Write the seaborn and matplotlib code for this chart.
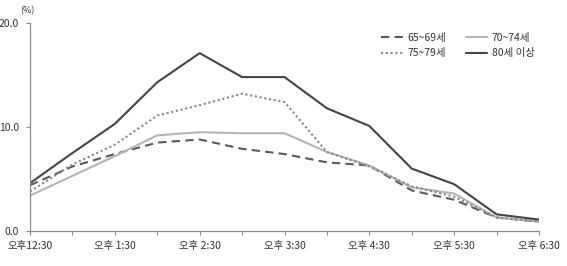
import matplotlib
matplotlib.use("Agg")
import matplotlib.pyplot as plt
import seaborn as sns
import pandas as pd
import numpy as np

times = ["12:30", "1:00", "1:30", "2:00", "2:30", "3:00", "3:30",
         "4:00", "4:30", "5:00", "5:30", "6:00", "6:30"]
tick_labels = ["오후12:30", "오후 1:30", "오후 2:30", "오후 3:30",
               "오후 4:30", "오후 5:30", "오후 6:30"]
series_names = ["65~69세", "70~74세", "75~79세", "80세 이상"]
s65_69 = [4.4, 6.2, 7.4, 8.5, 8.8, 7.9, 7.4, 6.6, 6.3, 3.9, 3.0, 1.3, 0.9]
s70_74 = [3.4, 5.3, 7.2, 9.2, 9.5, 9.4, 9.4, 7.6, 6.3, 4.2, 3.6, 1.3, 0.9]
s75_79 = [3.8, 6.4, 8.3, 11.1, 12.1, 13.2, 12.4, 7.6, 6.2, 4.3, 3.3, 1.3, 0.9]
s80 = [4.6, 7.5, 10.3, 14.3, 17.1, 14.8, 14.8, 11.8, 10.1, 6.0, 4.5, 1.6, 1.1]

sns.set_style("white")
plt.rcParams['font.family'] = ['Noto Sans CJK KR', 'DejaVu Sans']

rows = []
for name, vals in zip(series_names, [s65_69, s70_74, s75_79, s80]):
    for i, v in enumerate(vals):
        rows.append({"idx": i, "time": times[i], "value": v, "series": name})
df = pd.DataFrame(rows)

palette = {"65~69세": "#5a5a5a", "70~74세": "#b4b4b4",
           "75~79세": "#858585", "80세 이상": "#444444"}
dashes = {"65~69세": (4, 2.5), "70~74세": "", "75~79세": (1, 1.3), "80세 이상": ""}

fig = plt.figure(figsize=(5.67, 2.66), dpi=100)
ax = fig.add_axes([30/567, 1-231/266, (539-30)/567, (231-23)/266])

sns.lineplot(data=df, x="idx", y="value", hue="series", style="series",
             palette=palette, dashes=dashes, hue_order=series_names,
             style_order=series_names, linewidth=1.5, ax=ax, legend=True)

ax.set_xlim(0, 12)
ax.set_ylim(0, 20)
ax.set_yticks([0, 10, 20])
ax.set_yticklabels(["0.0", "10.0", "20.0"])
ax.set_xticks(np.arange(0, 13, 2))
ax.set_xticklabels(tick_labels)
ax.set_xticks(np.arange(0, 13, 1), minor=True)
ax.set_xlabel("")
ax.set_ylabel("")
for side in ["top", "right"]:
    ax.spines[side].set_visible(False)
for side in ["left", "bottom"]:
    ax.spines[side].set_color("#8c8c8c")
    ax.spines[side].set_linewidth(0.9)
ax.tick_params(axis="both", which="both", direction="out", length=3,
               width=0.8, color="#8c8c8c", labelsize=7.5, labelcolor="#333333")
ax.tick_params(axis="y", pad=5)
ax.tick_params(axis="x", pad=4)
ax.tick_params(axis="both", which="major", bottom=True, left=True)
ax.tick_params(axis="x", which="minor", bottom=True)

fig.text(27/567, 1-11/266, "(%)", ha="center", va="center", fontsize=6.5, color="#333333")

handles, labels = ax.get_legend_handles_labels()
ax.legend_.remove()
hmap = dict(zip(labels, handles))
order = ["65~69세", "75~79세", "70~74세", "80세 이상"]
leg = fig.legend([hmap[k] for k in order], order, loc="upper left",
                 bbox_to_anchor=(381/567, 1-33/266),
                 ncol=2, frameon=False, fontsize=7.5, handlelength=2.1,
                 handletextpad=0.4, columnspacing=1.9, labelspacing=0.5,
                 borderpad=0, borderaxespad=0)
for t in leg.get_texts():
    t.set_color("#333333")

fig.savefig("out.png", dpi=100)
